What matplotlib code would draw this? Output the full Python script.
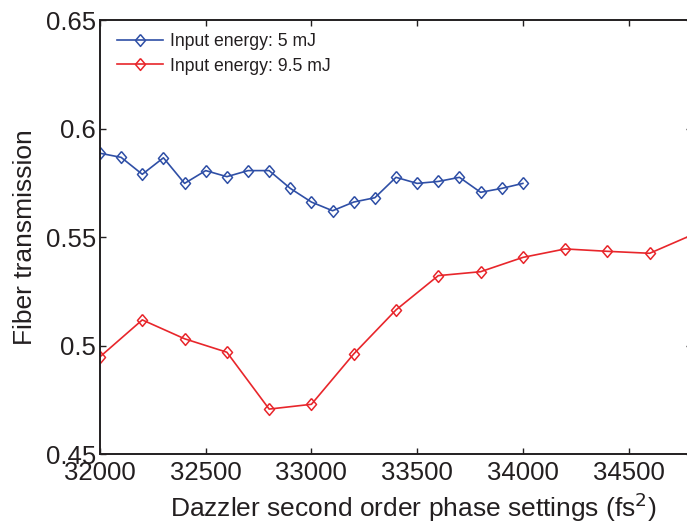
import matplotlib
matplotlib.use('Agg')
import matplotlib.pyplot as plt

# 데이터
phase_5mj = [32000, 32100, 32200, 32300, 32400, 32500, 32600, 32700, 32800, 32900, 33000,
             33100, 33200, 33300, 33400, 33500, 33600, 33700, 33800, 33900, 34000]
trans_5mj = [0.5886, 0.5867, 0.5789, 0.5865, 0.5747, 0.5806, 0.5778, 0.5806, 0.5806, 0.5724, 0.5661,
             0.5621, 0.5661, 0.5681, 0.5775, 0.5747, 0.5756, 0.5775, 0.5706, 0.5724, 0.5747]

phase_95mj = [32000, 32200, 32400, 32600, 32800, 33000, 33200, 33400, 33600, 33800,
              34000, 34200, 34400, 34600, 35000]
trans_95mj = [0.4948, 0.5118, 0.5031, 0.4969, 0.4707, 0.4729, 0.4961, 0.5164, 0.5322, 0.5340,
              0.5406, 0.5445, 0.5434, 0.5425, 0.5594]

x_ticks = [32000, 32500, 33000, 33500, 34000, 34500]
y_ticks = [0.45, 0.5, 0.55, 0.6, 0.65]
y_ticklabels = ['0.45', '0.5', '0.55', '0.6', '0.65']

plt.rcParams['font.family'] = ['Liberation Sans', 'DejaVu Sans']
text_col = '#231f20'

# matlab 스타일 마름모 마커
diamond = [(0, 1), (0.85, 0), (0, -1), (-0.85, 0), (0, 1)]

fig = plt.figure(figsize=(6.87, 5.23), dpi=100)
ax = fig.add_axes([100 / 687, 69 / 523, 592 / 687, 434 / 523])

ax.plot(phase_5mj, trans_5mj, color='#2f4fa6', lw=1.2, marker=diamond, ms=8.5,
        mfc='none', mec='#2f4fa6', mew=1.1, label='Input energy: 5 mJ')
ax.plot(phase_95mj, trans_95mj, color='#e8262b', lw=1.2, marker=diamond, ms=8.5,
        mfc='none', mec='#e8262b', mew=1.1, label='Input energy: 9.5 mJ')

ax.set_xlim(32000, 34800)
ax.set_ylim(0.45, 0.65)
ax.set_xticks(x_ticks)
ax.set_yticks(y_ticks)
ax.set_yticklabels(y_ticklabels)

ax.tick_params(direction='in', length=4.5, width=1, top=True, right=True,
               labelsize=18.5, colors=text_col)
ax.tick_params(axis='x', pad=5)
ax.tick_params(axis='y', pad=3)
for s in ax.spines.values():
    s.set_linewidth(1.4)
    s.set_color(text_col)

ax.set_xlabel('Dazzler second order phase settings (fs$^2$)', fontsize=19, color=text_col)
ax.xaxis.set_label_coords(0.529, -0.084)
ax.set_ylabel('Fiber transmission', fontsize=19, color=text_col)
ax.yaxis.set_label_coords(-0.106, 0.5)

ax.legend(loc='upper left', bbox_to_anchor=(0.0135, 0.99), frameon=False, fontsize=12.7,
          handlelength=2.6, handletextpad=0.4, labelspacing=0.42, borderpad=0,
          labelcolor=text_col)

fig.savefig('out.png', dpi=100)
